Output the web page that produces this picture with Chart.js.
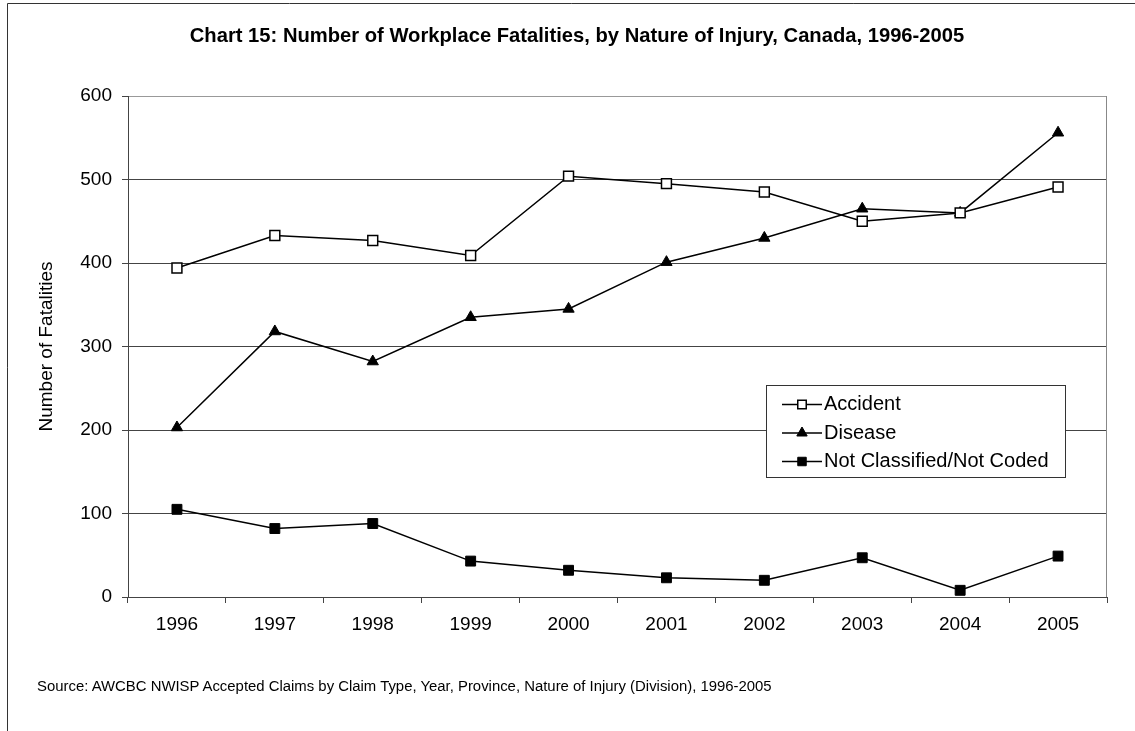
<!DOCTYPE html>
<html>
<head>
<meta charset="utf-8">
<title>Chart 15</title>
<script src="https://cdn.jsdelivr.net/npm/chart.js@4.4.1/dist/chart.umd.min.js"></script>
<style>
body { margin: 0; background: #fff; }
#wrap { position: relative; width: 1135px; height: 731px; overflow: hidden; }
#title { position: absolute; left: 0; width: 1154px; top: 23px; margin: 0; text-align: center; font: bold 20.2px 'Liberation Sans', Arial, sans-serif; line-height: 24px; color: #000; white-space: nowrap; }
#source { position: absolute; left: 37px; top: 677px; margin: 0; font: 14.9px 'Liberation Sans', Arial, sans-serif; line-height: 18px; color: #000; white-space: nowrap; }
</style>
</head>
<body>
<div id="wrap">
<canvas id="myChart" width="1135" height="731"></canvas>
<p id="title">Chart 15: Number of Workplace Fatalities, by Nature of Injury, Canada, 1996-2005</p>
<p id="source">Source: AWCBC NWISP Accepted Claims by Claim Type, Year, Province, Nature of Injury (Division), 1996-2005</p>
</div>
<script>
// values
var years = ['1996', '1997', '1998', '1999', '2000', '2001', '2002', '2003', '2004', '2005'];
var accident = [394, 433, 427, 409, 504, 495, 485, 450, 460, 491];
var disease = [203, 318, 282, 335, 345, 401, 430, 465, 460, 556];
var notClassified = [105, 82, 88, 43, 32, 23, 20, 47, 8, 49];
var yMin = 0, yMax = 600, yStep = 100;

var FONT = "'Liberation Sans', Arial, sans-serif";
Chart.defaults.font.family = FONT;
Chart.defaults.color = '#000';

// outer frame (left and top edges only, like the original)
var frame = {
	id: 'frame',
	beforeDraw: function(chart) {
		var ctx = chart.ctx;
		ctx.save();
		ctx.strokeStyle = '#333';
		ctx.lineWidth = 1;
		ctx.beginPath();
		ctx.moveTo(7.5, chart.height);
		ctx.lineTo(7.5, 3.5);
		ctx.lineTo(chart.width, 3.5);
		ctx.stroke();
		ctx.restore();
	}
};

// grey right edge of the plot area
var plotEdge = {
	id: 'plotEdge',
	beforeDatasetsDraw: function(chart) {
		var ctx = chart.ctx, a = chart.chartArea;
		ctx.save();
		ctx.strokeStyle = '#888';
		ctx.lineWidth = 1;
		ctx.beginPath();
		ctx.moveTo(Math.round(a.right) - 0.5, a.top);
		ctx.lineTo(Math.round(a.right) - 0.5, a.bottom);
		ctx.stroke();
		ctx.restore();
	}
};

// boxed legend inside the plot, line + marker sample
var legendBox = {
	id: 'legendBox',
	afterDraw: function(chart) {
		var ctx = chart.ctx, a = chart.chartArea;
		var x = Math.round(a.left + 638), y = Math.round(a.top + 289), w = 299, h = 92;
		ctx.save();
		ctx.fillStyle = '#fff';
		ctx.fillRect(x, y, w, h);
		ctx.strokeStyle = '#333';
		ctx.lineWidth = 1;
		ctx.strokeRect(x + 0.5, y + 0.5, w, h);
		ctx.font = '20px ' + FONT;
		ctx.textBaseline = 'middle';
		chart.data.datasets.forEach(function(ds, i) {
			var cy = y + 19.5 + i * 28.5;
			ctx.strokeStyle = ds.borderColor;
			ctx.lineWidth = 1.5;
			ctx.beginPath();
			ctx.moveTo(x + 16, cy);
			ctx.lineTo(x + 56, cy);
			ctx.stroke();
			ctx.fillStyle = ds.pointBackgroundColor;
			ctx.strokeStyle = ds.pointBorderColor;
			ctx.lineWidth = ds.pointBorderWidth;
			Chart.helpers.drawPoint(ctx, {pointStyle: ds.pointStyle, radius: 6, borderWidth: ds.pointBorderWidth, rotation: 0}, x + 36, cy);
			ctx.fillStyle = '#000';
			ctx.fillText(ds.label, x + 58, cy);
		});
		ctx.restore();
	}
};

var ctx = document.getElementById('myChart').getContext('2d');
var myLineChart = new Chart(ctx, {
	type: 'line',
	data: {
		labels: years,
		datasets: [{
			label: 'Accident',
			data: accident,
			borderColor: '#000',
			borderWidth: 1.5,
			pointStyle: 'rect',
			pointRadius: 7,
			pointBackgroundColor: '#fff',
			pointBorderColor: '#000',
			pointBorderWidth: 1.5,
			tension: 0,
			fill: false
		},
		{
			label: 'Disease',
			data: disease,
			borderColor: '#000',
			borderWidth: 1.5,
			pointStyle: 'triangle',
			pointRadius: 6.5,
			pointBackgroundColor: '#000',
			pointBorderColor: '#000',
			pointBorderWidth: 1,
			tension: 0,
			fill: false
		},
		{
			label: 'Not Classified/Not Coded',
			data: notClassified,
			borderColor: '#000',
			borderWidth: 1.5,
			pointStyle: 'rect',
			pointRadius: 7,
			pointBackgroundColor: '#000',
			pointBorderColor: '#000',
			pointBorderWidth: 1,
			tension: 0,
			fill: false
		}]
	},
	options: {
		responsive: false,
		animation: false,
		layout: { padding: { left: 0, right: 28, top: 96, bottom: 89 } },
		plugins: {
			legend: { display: false },
			tooltip: { enabled: false },
			title: { display: false }
		},
		scales: {
			x: {
				offset: true,
				grid: { offset: true, drawOnChartArea: false, drawTicks: true, tickLength: 6, color: '#444' },
				border: { color: '#444', width: 1 },
				ticks: { font: { size: 19 }, color: '#000', padding: 10, maxRotation: 0 },
				afterFit: function(scale) { scale.height = 45; }
			},
			y: {
				min: yMin,
				max: yMax,
				grid: {
					color: function(c) { return c.tick && c.tick.value === yMax ? '#999' : '#444'; },
					tickColor: '#444',
					tickLength: 6,
					lineWidth: 1
				},
				border: { color: '#444', width: 1 },
				ticks: { stepSize: yStep, font: { size: 19 }, color: '#000', padding: 10 },
				title: {
					display: true,
					text: 'Number of Fatalities',
					font: { size: 19 },
					color: '#000',
					padding: { top: 35, bottom: 0 }
				},
				afterFit: function(scale) { scale.width = 128; }
			}
		}
	},
	plugins: [frame, plotEdge, legendBox]
});
</script>
</body>
</html>
